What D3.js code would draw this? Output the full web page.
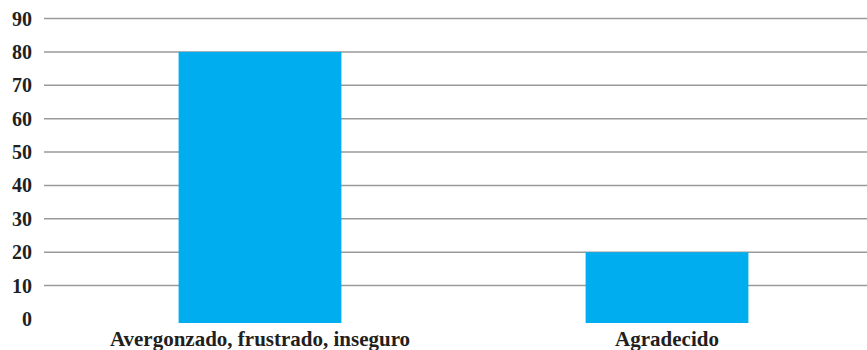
<!DOCTYPE html>
<html><head><meta charset="utf-8">
<script src="https://cdn.jsdelivr.net/npm/d3@7"></script>
<style>body{margin:0;background:#fff}svg{display:block}</style>
</head><body>
<svg id="c" width="867" height="350"></svg>
<script>
const categories = ["Avergonzado, frustrado, inseguro", "Agradecido"];
const values = [80, 20];
const yTicks = [0, 10, 20, 30, 40, 50, 60, 70, 80, 90];

const svg = d3.select("#c");
const y = d3.scaleLinear().domain([0, 90]).range([319, 18.5]);
const x = d3.scaleBand().domain(categories).range([56.5, 870.5]).paddingInner(0.6).paddingOuter(0.3);

// gridlines
svg.append("g").selectAll("line").data(yTicks.filter(d => d > 0)).join("line")
  .attr("x1", 44).attr("x2", 867)
  .attr("y1", d => y(d)).attr("y2", d => y(d))
  .attr("stroke", "#9a9a9a").attr("stroke-width", 1.5);

// bars
svg.append("g").selectAll("rect").data(values).join("rect")
  .attr("x", (d, i) => x(categories[i]))
  .attr("width", x.bandwidth())
  .attr("y", d => y(d))
  .attr("height", d => y(0) - y(d) + 4)
  .attr("fill", "#00aeef");

// y labels
svg.append("g").selectAll("text").data(yTicks).join("text")
  .attr("x", 32).attr("y", d => y(d))
  .attr("dy", "0.35em").attr("text-anchor", "end")
  .attr("font-family", "'Liberation Serif', serif").attr("font-weight", "bold")
  .attr("font-size", 20).attr("fill", "#231f20")
  .text(d => d);

// x labels
svg.append("g").selectAll("text").data(categories).join("text")
  .attr("x", d => x(d) + x.bandwidth() / 2).attr("y", 346)
  .attr("text-anchor", "middle")
  .attr("font-family", "'Liberation Serif', serif").attr("font-weight", "bold")
  .attr("font-size", 21).attr("fill", "#231f20")
  .text(d => d);
</script>
</body></html>
